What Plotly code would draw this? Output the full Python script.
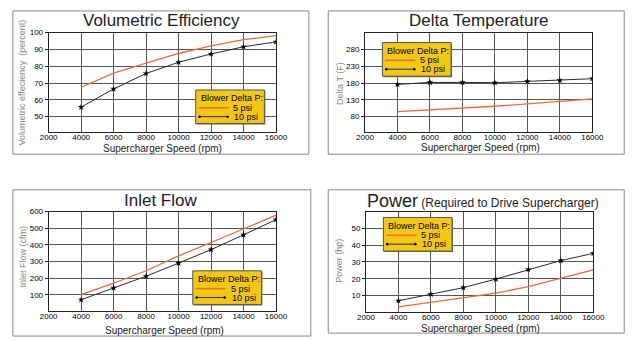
import plotly.graph_objects as go

W, H = 643, 341

speed = [4000, 6000, 8000, 10000, 12000, 14000, 16000]
ve_5 = [67.5, 75.9, 81.8, 87.6, 92.2, 95.9, 98.2]
ve_10 = [55.7, 66.5, 75.7, 82.4, 87.3, 91.6, 94.5]
dt_5 = [95, 100, 106, 111, 118, 125, 133]
dt_10 = [176, 182, 182, 181, 185, 188, 193]
flow_5 = [100, 169, 244, 333, 414, 495, 578]
flow_10 = [70, 141, 211, 290, 371, 460, 551]
pow_5 = [3.3, 5.9, 8.6, 11.4, 15.3, 20.2, 25.3]
pow_10 = [6.9, 10.8, 14.7, 19.8, 25.5, 30.8, 35.1]

x_ticks = [2000, 4000, 6000, 8000, 10000, 12000, 14000, 16000]
series_names = ["5 psi", "10 psi"]
legend_title = "Blower Delta P:"
x_title = "Supercharger Speed (rpm)"

FONT = "Liberation Sans, Arial, sans-serif"
ORANGE = "#f26a3a"
DARK = "#2a2a2a"
YELLOW = "#f2c811"


def px(x):
    return x / W


def py(y):
    return 1 - y / H


panels = [
    dict(ys=(ve_5, ve_10), xd=(41, 276), yd=(29, 130), yr=[40.6, 100],
         yt=[50, 60, 70, 80, 90, 100], leg=(193, 87)),
    dict(ys=(dt_5, dt_10), xd=(368, 603), yd=(29, 130), yr=[33, 330],
         yt=[80, 130, 180, 230, 280], leg=(386, 39)),
    dict(ys=(flow_5, flow_10), xd=(41, 276), yd=(210, 311), yr=[0, 600],
         yt=[100, 200, 300, 400, 500, 600], leg=(190, 270)),
    dict(ys=(pow_5, pow_10), xd=(369, 604), yd=(210, 312), yr=[0, 60],
         yt=[10, 20, 30, 40, 50], leg=(387, 216)),
]

fig = go.Figure()
layout = dict(
    width=W, height=H, margin=dict(l=0, r=0, t=0, b=0),
    paper_bgcolor="white", plot_bgcolor="white",
    font=dict(family=FONT, color="black"),
    showlegend=False,
)

shapes = []
annots = []


def ann(text, x, y, size, color="black", xanchor="center", angle=0, pad=1):
    annots.append(dict(text=text, x=px(x), y=py(y), xref="paper", yref="paper",
                       showarrow=False, xanchor=xanchor, yanchor="middle",
                       textangle=angle, borderpad=pad,
                       font=dict(size=size, family=FONT, color=color)))


def pline(x0, y0, x1, y1, color, width):
    shapes.append(dict(type="line", xref="paper", yref="paper",
                       x0=px(x0), x1=px(x1), y0=py(y0), y1=py(y1),
                       line=dict(color=color, width=width)))


for i, p in enumerate(panels):
    n = "" if i == 0 else str(i + 1)
    y5, y10 = p["ys"]
    fig.add_trace(go.Scatter(
        x=speed, y=y5, name=series_names[0], mode="lines",
        line=dict(color=ORANGE, width=1.3),
        xaxis="x" + n, yaxis="y" + n))
    fig.add_trace(go.Scatter(
        x=speed, y=y10, name=series_names[1], mode="lines+markers",
        line=dict(color=DARK, width=1),
        marker=dict(symbol="star", size=5, color="black"),
        xaxis="x" + n, yaxis="y" + n))
    layout["xaxis" + n] = dict(
        domain=[px(p["xd"][0]), px(p["xd"][1])], range=[2000, 16000],
        tickvals=x_ticks, ticktext=[str(v) for v in x_ticks],
        showgrid=True, gridcolor="#555", gridwidth=1,
        showline=True, linecolor="#222", linewidth=1, mirror=True,
        ticks="", ticklabelstandoff=-3,
        tickfont=dict(size=8, family=FONT, color="black"),
        anchor="y" + n, zeroline=False, fixedrange=True)
    layout["yaxis" + n] = dict(
        domain=[py(p["yd"][1]), py(p["yd"][0])], range=p["yr"],
        tickvals=p["yt"],
        showgrid=True, gridcolor="#555", gridwidth=1,
        showline=True, linecolor="#222", linewidth=1, mirror=True,
        ticks="outside", ticklen=3, tickcolor="#222",
        tickfont=dict(size=8, family=FONT, color="black"),
        anchor="x" + n, zeroline=False, fixedrange=True)

    # legend box (drawn above the plot)
    bx, by = p["leg"]
    shapes.append(dict(type="rect", xref="paper", yref="paper",
                       x0=px(bx + 1), x1=px(bx + 72), y0=py(by + 35), y1=py(by + 1),
                       line=dict(width=0), fillcolor="#6b6b6b", layer="above"))
    shapes.append(dict(type="rect", xref="paper", yref="paper",
                       x0=px(bx), x1=px(bx + 71), y0=py(by + 34), y1=py(by),
                       line=dict(color="#555", width=1), fillcolor=YELLOW, layer="above"))
    ann(legend_title, bx + 4, by + 8.5, 9, xanchor="left", pad=0)
    pline(bx + 3, by + 18, bx + 34, by + 18, ORANGE, 1.5)
    ann(series_names[0], bx + 38, by + 18, 9, xanchor="left", pad=0)
    pline(bx + 3, by + 27, bx + 34, by + 27, DARK, 1)
    for mx in (bx + 4, bx + 33):
        shapes.append(dict(type="circle", xref="paper", yref="paper",
                           x0=px(mx - 1.3), x1=px(mx + 1.3),
                           y0=py(by + 28.3), y1=py(by + 25.7),
                           line=dict(width=0), fillcolor="black"))
    ann(series_names[1], bx + 39, by + 27, 9, xanchor="left", pad=0)

fig.update_layout(**layout)

# outer frames
boxes = [(4, 7, 310, 152), (330, 7, 636, 152), (4, 188, 312, 336), (330, 188, 636, 333)]
for (x0, y0, x1, y1) in boxes:
    shapes.append(dict(type="rect", xref="paper", yref="paper",
                       x0=px(x0), x1=px(x1), y0=py(y1), y1=py(y0),
                       line=dict(color="#8a8a8a", width=1), fillcolor="rgba(0,0,0,0)",
                       layer="below"))

ann("Volumetric Efficiency", 158, 17, 17, "#222")
ann("Delta Temperature", 486, 17, 17, "#222")
ann("Inlet Flow", 157, 199, 17, "#222")
ann("<span style='font-size:18px'>Power</span> (Required to Drive Supercharger)", 490, 199, 12, "#222")

for x, y in [(159, 146), (487, 145), (161, 330), (487, 328)]:
    ann(x_title, x, y, 10, "#222")

ann("Volumetric effeciency  (percent)", 14, 80, 9, "#888", angle=-90)
ann("Delta T (F)", 342, 80, 9, "#888", angle=-90)
ann("Inlet Flow (cfm)", 14, 256, 9, "#888", angle=-90)
ann("Power (hp)", 341, 260, 9, "#888", angle=-90)

fig.update_layout(shapes=shapes, annotations=annots)
fig.write_html("out.html")
